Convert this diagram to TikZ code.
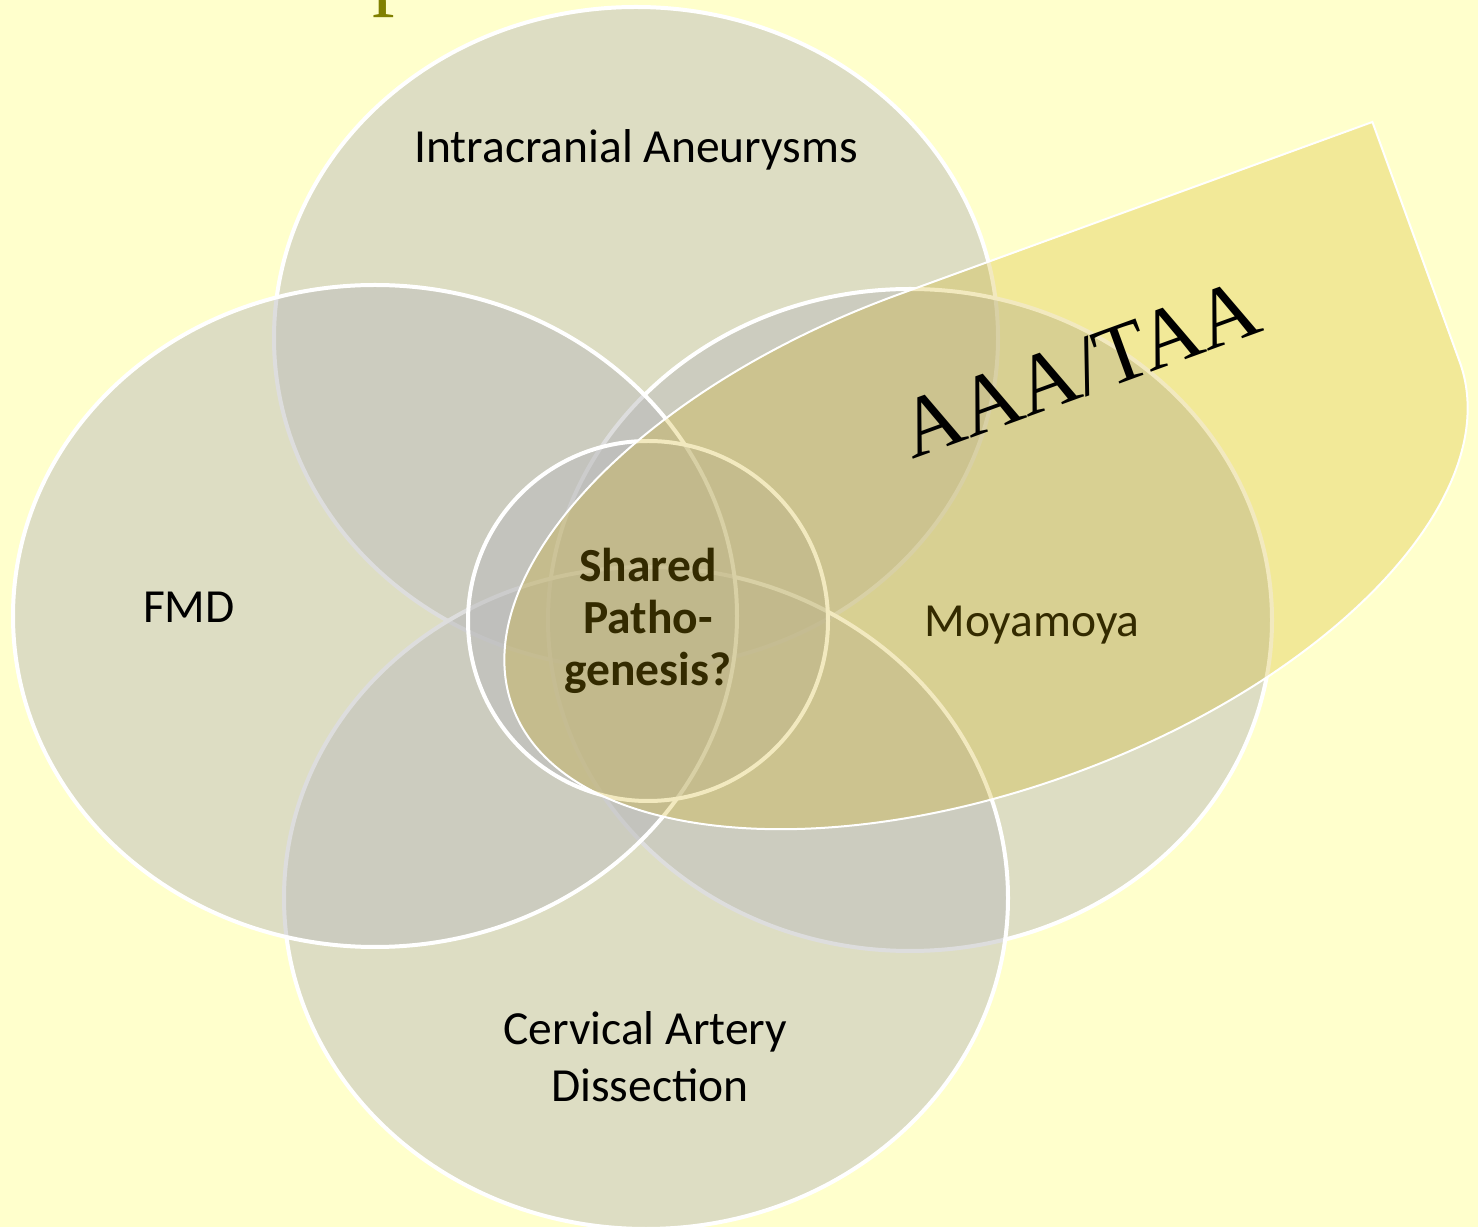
\documentclass[tikz,border=0pt]{standalone}
\usepackage{fontspec}
\newfontfamily\calibri{Carlito}
\newfontfamily\timesf{Liberation Serif}
\definecolor{bgc}{RGB}{255,255,204}
\definecolor{ellc}{RGB}{188,188,188}
\definecolor{leafc}{RGB}{204,170,0}
\definecolor{titlec}{RGB}{128,128,0}
\begin{document}
\begin{tikzpicture}[x=0.5pt,y=0.5pt,
  venn/.style={fill=ellc, fill opacity=0.5, draw=white, draw opacity=1, line width=2pt},
  leafst/.style={fill=leafc, fill opacity=0.25, draw=white, draw opacity=1, line width=1pt},
  lbl/.style={font=\calibri\fontsize{23.75}{28}\selectfont, text=black, inner sep=0, anchor=base},
  blbl/.style={font=\calibri\bfseries\fontsize{23.75}{28}\selectfont, text=black, inner sep=0, anchor=base}]
\useasboundingbox (0,0) rectangle (1478,1227);
\fill[bgc] (0,0) rectangle (1478,1227);
% cut-off title glyph
\node[font=\timesf\fontsize{45}{50}\selectfont, text=titlec, anchor=base west, inner sep=0] (title) at (372,1228.5) {p};
% Venn ellipses
\draw[venn] (636,889) ellipse [x radius=362, y radius=331];
\draw[venn] (910,607) ellipse [x radius=362, y radius=331];
\draw[venn] (646,329) ellipse [x radius=362, y radius=331];
\draw[venn] (375,611) ellipse [x radius=362, y radius=331];
\draw[venn] (648,606) circle [radius=180];
% labels
\node[lbl] (ia) at (636,1064) {Intracranial Aneurysms};
\node[lbl] (fmd) at (189,604) {FMD};
\node[lbl] (moya) at (1032,590) {Moyamoya};
\node[lbl] (cad1) at (645,183) {Cervical Artery};
\node[lbl] (cad2) at (650,126) {Dissection};
\node[blbl] (sp1) at (648,645) {Shared};
\node[blbl] (sp2) at (648,593) {Patho-};
\node[blbl] (sp3) at (648,541) {genesis?};
% teardrop
\begin{scope}[shift={(986,693)}, rotate=20]
\draw[leafst] (-504,0) arc[start angle=180, end angle=90, x radius=504, y radius=255]
  -- (504,255) -- (504,0)
  arc[start angle=0, end angle=-180, x radius=504, y radius=255] -- cycle;
\end{scope}
\node[font=\timesf\fontsize{42.5}{50}\selectfont, rotate=20, anchor=base, inner sep=0] (aaa) at (1089,832) {AAA/TAA};
\end{tikzpicture}
\end{document}
